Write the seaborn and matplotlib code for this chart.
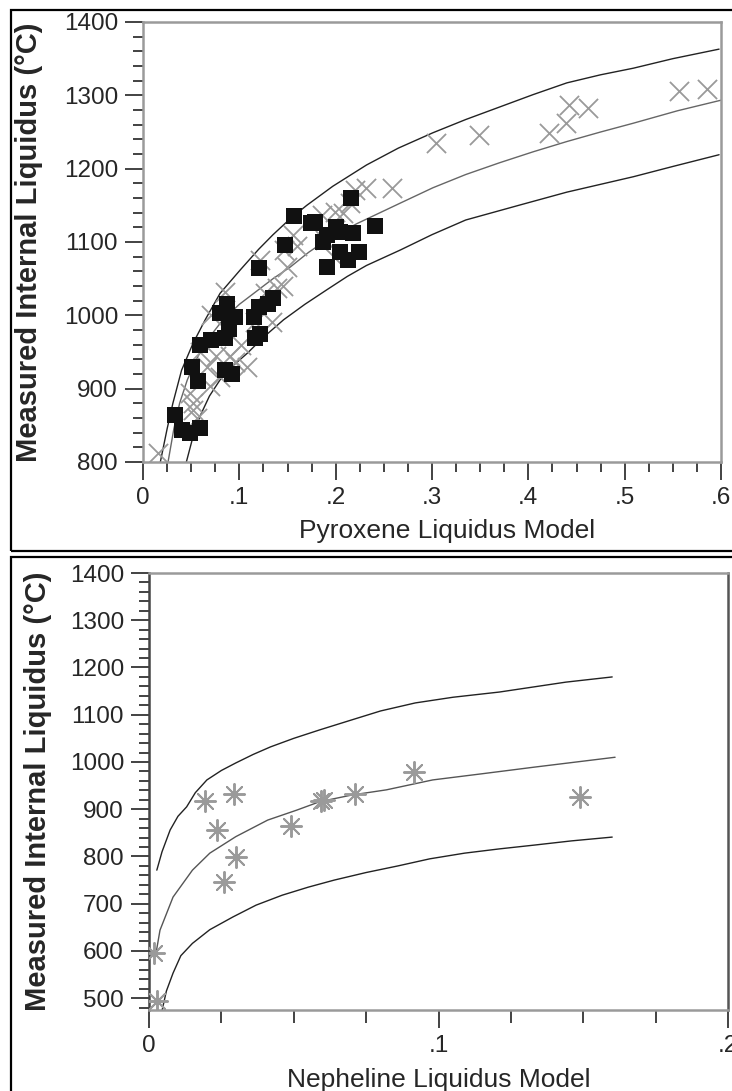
import matplotlib
matplotlib.use('Agg')

import numpy as np
import pandas as pd
import seaborn as sns
from matplotlib import pyplot as plt
from matplotlib.patches import Rectangle

# ---- top panel: pyroxene ----
pyx_sq_x = [0.157, 0.174, 0.179, 0.216, 0.241, 0.191, 0.205, 0.218, 0.187, 0.147,
            0.205, 0.224, 0.213, 0.191, 0.120, 0.135, 0.120, 0.115, 0.087, 0.080,
            0.096, 0.089, 0.085, 0.071, 0.059, 0.116, 0.121, 0.051, 0.057, 0.085,
            0.092, 0.033, 0.040, 0.049, 0.059, 0.200, 0.130]
pyx_sq_y = [1135, 1126, 1127, 1160, 1122, 1109, 1114, 1112, 1100, 1096,
            1087, 1087, 1075, 1066, 1065, 1023, 1012, 998, 1016, 1003,
            998, 982, 969, 966, 960, 969, 975, 930, 911, 925,
            920, 864, 844, 839, 846, 1120, 1015]

pyx_x_x = [0.016, 0.052, 0.052, 0.049, 0.056, 0.070, 0.080, 0.066, 0.076, 0.090,
           0.096, 0.108, 0.059, 0.071, 0.085, 0.116, 0.134, 0.127, 0.139, 0.121,
           0.149, 0.146, 0.156, 0.160, 0.186, 0.199, 0.208, 0.215, 0.220, 0.232,
           0.258, 0.198, 0.189, 0.304, 0.349, 0.421, 0.439, 0.442, 0.462, 0.556,
           0.585, 0.102, 0.145]
pyx_x_y = [812, 871, 880, 894, 860, 903, 916, 930, 944, 944,
           937, 930, 950, 1000, 1032, 991, 991, 1030, 1037, 1075,
           1066, 1089, 1110, 1094, 1137, 1141, 1139, 1153, 1171, 1173,
           1173, 1080, 1103, 1235, 1246, 1249, 1262, 1287, 1283, 1306,
           1309, 960, 1040]

pyx_up_x = [0.018, 0.025, 0.031, 0.040, 0.052, 0.065, 0.080, 0.101, 0.120, 0.135, 0.153, 0.170,
            0.197, 0.232, 0.265, 0.301, 0.335, 0.370, 0.405, 0.440, 0.475, 0.509, 0.550, 0.598]
pyx_up_y = [800, 845, 880, 925, 962, 995, 1030, 1062, 1090, 1110, 1132, 1150,
            1176, 1205, 1228, 1249, 1267, 1284, 1301, 1317, 1328, 1337, 1350, 1363]
pyx_mid_x = [0.026, 0.032, 0.038, 0.046, 0.057, 0.070, 0.083, 0.100, 0.115, 0.135, 0.153, 0.172,
             0.191, 0.222, 0.267, 0.301, 0.335, 0.370, 0.405, 0.440, 0.475, 0.509, 0.555, 0.602]
pyx_mid_y = [800, 845, 880, 912, 944, 972, 994, 1015, 1030, 1050, 1066, 1086,
             1103, 1125, 1153, 1174, 1192, 1208, 1223, 1237, 1250, 1262, 1279, 1294]
pyx_lo_x = [0.045, 0.051, 0.059, 0.069, 0.080, 0.094, 0.108, 0.125, 0.146, 0.168, 0.191,
            0.212, 0.232, 0.267, 0.300, 0.335, 0.390, 0.440, 0.509, 0.550, 0.598]
pyx_lo_y = [800, 830, 862, 890, 912, 932, 948, 970, 994, 1015, 1035,
            1053, 1068, 1089, 1110, 1130, 1150, 1168, 1189, 1203, 1219]

# ---- bottom panel: nepheline ----
nep_x = [0.0193, 0.0294, 0.0234, 0.030, 0.0259, 0.049, 0.0594, 0.0605, 0.0711, 0.0915, 0.149, 0.0017, 0.0027]
nep_y = [918, 932, 856, 799, 746, 864, 917, 920, 932, 979, 926, 596, 494]

nep_up_x = [0.0027, 0.0045, 0.0073, 0.010, 0.013, 0.016, 0.020, 0.025, 0.030, 0.036, 0.042, 0.050,
            0.059, 0.070, 0.080, 0.092, 0.105, 0.121, 0.144, 0.160]
nep_up_y = [771, 810, 856, 885, 905, 935, 962, 982, 998, 1016, 1032, 1050,
            1068, 1089, 1108, 1125, 1137, 1148, 1169, 1180]
nep_mid_x = [0.0025, 0.0038, 0.0083, 0.015, 0.021, 0.030, 0.041, 0.051, 0.059, 0.070, 0.082,
             0.098, 0.115, 0.133, 0.161]
nep_mid_y = [598, 644, 714, 771, 807, 842, 877, 898, 916, 930, 941,
             962, 975, 989, 1010]
nep_lo_x = [0.0044, 0.006, 0.0083, 0.011, 0.015, 0.021, 0.029, 0.037, 0.046, 0.055, 0.064,
            0.075, 0.086, 0.097, 0.109, 0.121, 0.133, 0.146, 0.160]
nep_lo_y = [471, 515, 553, 590, 616, 645, 672, 697, 718, 735, 750,
            766, 780, 795, 807, 816, 824, 833, 841]

ylabel = 'Measured Internal Liquidus (°C)'

sns.set_style('ticks')
plt.rcParams['font.family'] = ['Liberation Sans', 'DejaVu Sans']

fig = plt.figure(figsize=(7.32, 10.91), dpi=100)

# outer boxes
fig.patches.append(Rectangle((11 / 732, 1 - 551 / 1091), 0.99, 541 / 1091,
                             transform=fig.transFigure, fill=False, ec='black', lw=1.6))
fig.patches.append(Rectangle((11 / 732, -0.01), 0.99, 1 - 557 / 1091 + 0.01,
                             transform=fig.transFigure, fill=False, ec='black', lw=1.6))

ax1 = fig.add_axes([143 / 732, 1 - 462 / 1091, 578 / 732, 440 / 1091])
ax2 = fig.add_axes([149 / 732, 1 - 1010 / 1091, 579 / 732, 437 / 1091])


def curve(ax, x, y, color, lw):
    sns.lineplot(x=x, y=y, ax=ax, color=color, lw=lw, sort=False, estimator=None)


curve(ax1, pyx_up_x, pyx_up_y, '#222222', 1.0)
curve(ax1, pyx_mid_x, pyx_mid_y, '#666666', 1.0)
curve(ax1, pyx_lo_x, pyx_lo_y, '#222222', 1.0)
sns.scatterplot(x=pyx_x_x, y=pyx_x_y, ax=ax1, marker='x', s=190, color='#9a9a9a', linewidth=1.3, zorder=3)
sns.scatterplot(x=pyx_sq_x, y=pyx_sq_y, ax=ax1, marker='s', s=120, color='#111111', linewidth=0, zorder=4)

curve(ax2, nep_up_x, nep_up_y, '#222222', 1.0)
curve(ax2, nep_mid_x, nep_mid_y, '#555555', 1.0)
curve(ax2, nep_lo_x, nep_lo_y, '#222222', 1.0)
sns.scatterplot(x=nep_x, y=nep_y, ax=ax2, marker=(8, 2, 0), s=230, color='#9a9a9a',
                edgecolor='#9a9a9a', linewidth=1.4, zorder=3)

ax1.set_xlim(0, 0.6)
ax1.set_ylim(800, 1400)
ax1.set_xticks(np.arange(0, 0.61, 0.1))
ax1.set_xticklabels(['0', '.1', '.2', '.3', '.4', '.5', '.6'])
ax1.set_xticks(np.arange(0, 0.601, 0.025), minor=True)
ax1.set_yticks(np.arange(800, 1401, 100))
ax1.set_yticks(np.arange(800, 1401, 20), minor=True)
ax1.set_xlabel('Pyroxene Liquidus Model', fontsize=19, labelpad=7)
ax1.xaxis.label.set_x(0.526)
ax1.set_ylabel(ylabel, fontsize=21, fontweight='bold', labelpad=15)

ax2.set_xlim(0, 0.2)
ax2.set_ylim(475, 1400)
ax2.set_xticks([0, 0.1, 0.2])
ax2.set_xticklabels(['0', '.1', '.2'])
ax2.set_xticks(np.arange(0, 0.201, 0.025), minor=True)
ax2.set_yticks(np.arange(500, 1401, 100))
ax2.set_yticks(np.arange(480, 1401, 20), minor=True)
ax2.set_xlabel('Nepheline Liquidus Model', fontsize=19, labelpad=8)
ax2.set_ylabel(ylabel, fontsize=21, fontweight='bold', labelpad=13)

for ax in (ax1, ax2):
    for side in ('left', 'right', 'top', 'bottom'):
        ax.spines[side].set_visible(True)
        ax.spines[side].set_color('#9a9a9a')
        ax.spines[side].set_linewidth(1.8)
    ax.tick_params(axis='both', which='major', labelsize=17.5, length=13, width=1.2,
                   color='#222222', direction='out', pad=5)
    ax.tick_params(axis='both', which='minor', length=7, width=1.2,
                   color='#222222', direction='out')
    ax.set_facecolor('white')

ax2.spines['right'].set_color('#555555')
ax2.spines['left'].set_color('#444444')
ax2.tick_params(axis='x', which='minor', length=9)

fig.savefig('out.png', dpi=100, facecolor='white')
